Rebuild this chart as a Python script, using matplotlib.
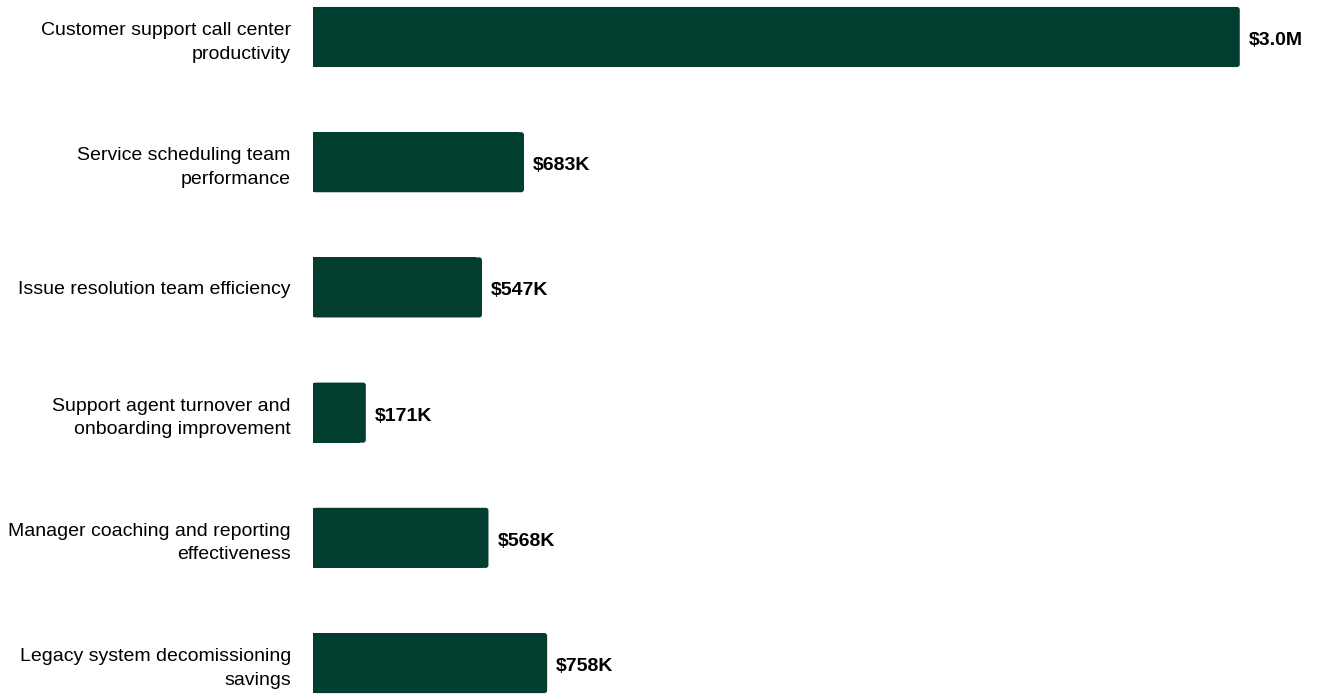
import matplotlib.pyplot as plt
from matplotlib.patches import FancyBboxPatch

plt.rcParams["font.family"] = ["Liberation Sans", "DejaVu Sans"]

# 数据（单位：千美元）
categories = [
    "Customer support call center\nproductivity",
    "Service scheduling team\nperformance",
    "Issue resolution team efficiency",
    "Support agent turnover and\nonboarding improvement",
    "Manager coaching and reporting\neffectiveness",
    "Legacy system decomissioning\nsavings",
]
values = [3000, 683, 547, 171, 568, 758]
value_labels = ["$3.0M", "$683K", "$547K", "$171K", "$568K", "$758K"]

bar_color = "#013e30"
bar_h = 0.48

fig = plt.figure(figsize=(13.17, 6.94), dpi=100)
ax = fig.add_axes([313 / 1317, 0, 1 - 313 / 1317, 1])

ypos = list(range(len(values)))
# 左半部分用方角，右端用圆角补上
ax.barh(ypos, [v - 20 for v in values], height=bar_h, color=bar_color)
rx = 9.0
for y, v in zip(ypos, values):
    p = FancyBboxPatch((0, y - bar_h / 2), v, bar_h,
                       boxstyle=f"round,pad=0,rounding_size={rx}",
                       mutation_aspect=0.0025,
                       facecolor=bar_color, edgecolor="none")
    ax.add_patch(p)

for y, v, lab in zip(ypos, values, value_labels):
    ax.annotate(lab, (v, y), xytext=(6.5, -2.5), textcoords="offset points",
                va="center", ha="left", fontsize=14, fontweight="bold")

ax.set_yticks(ypos)
ax.set_yticklabels(categories, fontsize=14, linespacing=1.5)
ax.tick_params(axis="y", length=0, pad=16)
ax.set_xticks([])
ax.set_xlim(0, 3250)
ax.set_ylim(5.247, -0.2955)
for s in ax.spines.values():
    s.set_visible(False)

fig.savefig("out.png", dpi=100)
